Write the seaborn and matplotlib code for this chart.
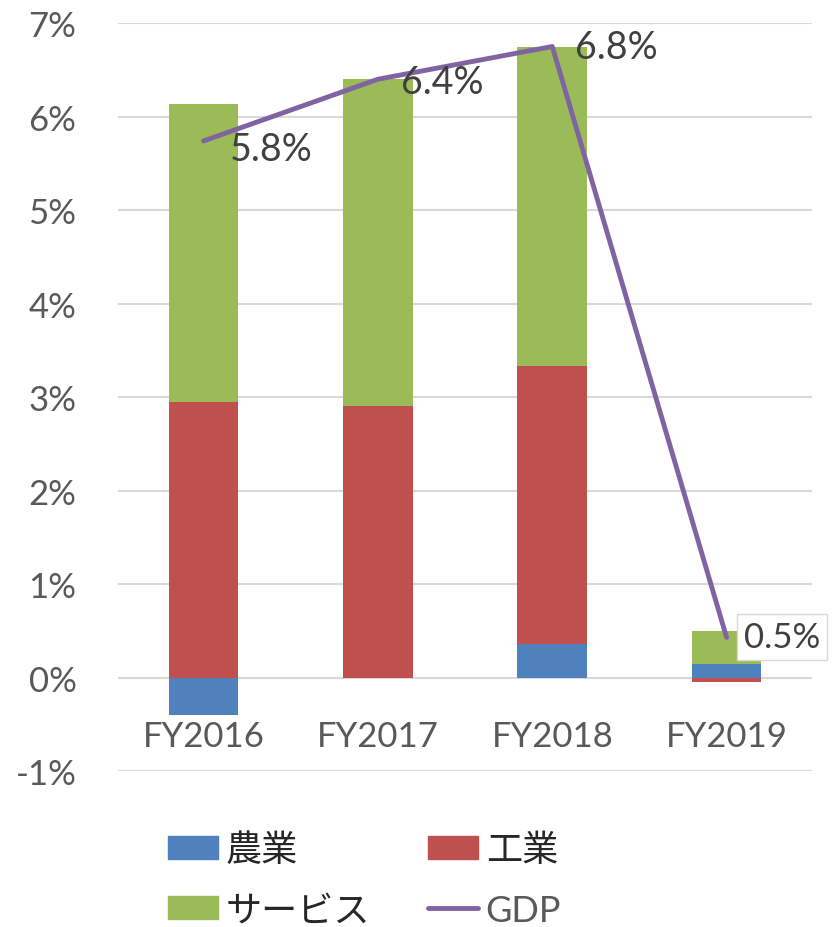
import numpy as np
import pandas as pd
import matplotlib
matplotlib.use("Agg")
import matplotlib.pyplot as plt
import seaborn as sns
from matplotlib.patches import Patch
from matplotlib.lines import Line2D

years = ["FY2016", "FY2017", "FY2018", "FY2019"]
agri = [-0.40, 0.0, 0.36, 0.15]
industry = [2.95, 2.90, 2.97, -0.05]
services = [3.19, 3.50, 3.41, 0.35]
gdp = [5.74, 6.40, 6.75, 0.43]
gdp_labels = ["5.8%", "6.4%", "6.8%", "0.5%"]
yticks = [-1, 0, 1, 2, 3, 4, 5, 6, 7]

sns.set_theme(style="white")
plt.rcParams['font.family'] = ['Lato', 'Noto Sans CJK JP', 'DejaVu Sans']

colors = {"農業": "#4F81BD", "工業": "#C0504D", "サービス": "#9BBB59"}
gdp_color = "#8064A2"
txt = "#595959"

fig = plt.figure(figsize=(8.38, 9.28), dpi=100)
ax = fig.add_axes([0.141, 0.168, 0.828, 0.806])

pos_base = np.zeros(4)
neg_base = np.zeros(4)
for name, vals in [("農業", agri), ("工業", industry), ("サービス", services)]:
    vals = np.array(vals)
    bottoms = np.where(vals >= 0, pos_base, neg_base)
    df = pd.DataFrame({"year": years, "v": vals})
    sns.barplot(data=df, x="year", y="v", bottom=bottoms, color=colors[name],
                width=0.4, saturation=1, ax=ax, zorder=3, linewidth=0)
    pos_base = pos_base + np.where(vals >= 0, vals, 0)
    neg_base = neg_base + np.where(vals < 0, vals, 0)

sns.lineplot(x=np.arange(4), y=gdp, color=gdp_color, linewidth=3.5, ax=ax, zorder=4)

offsets = [(0.15, -0.09), (0.13, -0.03), (0.13, 0.0), (0.1, 0.0)]
for i, (v, lab) in enumerate(zip(gdp, gdp_labels)):
    dx, dy = offsets[i]
    kw = {}
    if i == 3:
        kw["bbox"] = dict(boxstyle="square,pad=0.2", fc="white", ec="#D9D9D9", lw=1)
    ax.text(i + dx, v + dy, lab, fontsize=27 if i < 3 else 25, color="#404040",
            ha="left", va="center", zorder=5, **kw)

ax.set_xlim(-0.49, 3.49)
ax.set_ylim(-1, 7)
ax.set_yticks(yticks)
ax.set_yticklabels([f"{t}%" for t in yticks], fontsize=25, color=txt)
ax.tick_params(axis="y", length=0, pad=30)
ax.set_xticks([])
ax.set_xlabel("")
ax.set_ylabel("")
ax.grid(axis="y", color="#D9D9D9", linewidth=1.5, zorder=0)
for s in ax.spines.values():
    s.set_visible(False)

for i, y in enumerate(years):
    ax.text(i, -0.62, y, fontsize=25, color=txt, ha="center", va="center")

handles = [Patch(color=colors["農業"]), Patch(color=colors["サービス"]),
           Patch(color=colors["工業"]), Line2D([], [], color=gdp_color, lw=3.5)]
labels = ["農業", "サービス", "工業", "GDP"]
leg = fig.legend(handles, labels, ncol=2, loc="center", bbox_to_anchor=(0.435, 0.051),
                 frameon=False, fontsize=26, handlelength=1.4, handleheight=0.6,
                 columnspacing=1.6, labelspacing=0.75, handletextpad=0.2)
for t in leg.get_texts():
    t.set_color("#262626")
leg.get_texts()[3].set_color(txt)

fig.savefig("out.png", dpi=100)
